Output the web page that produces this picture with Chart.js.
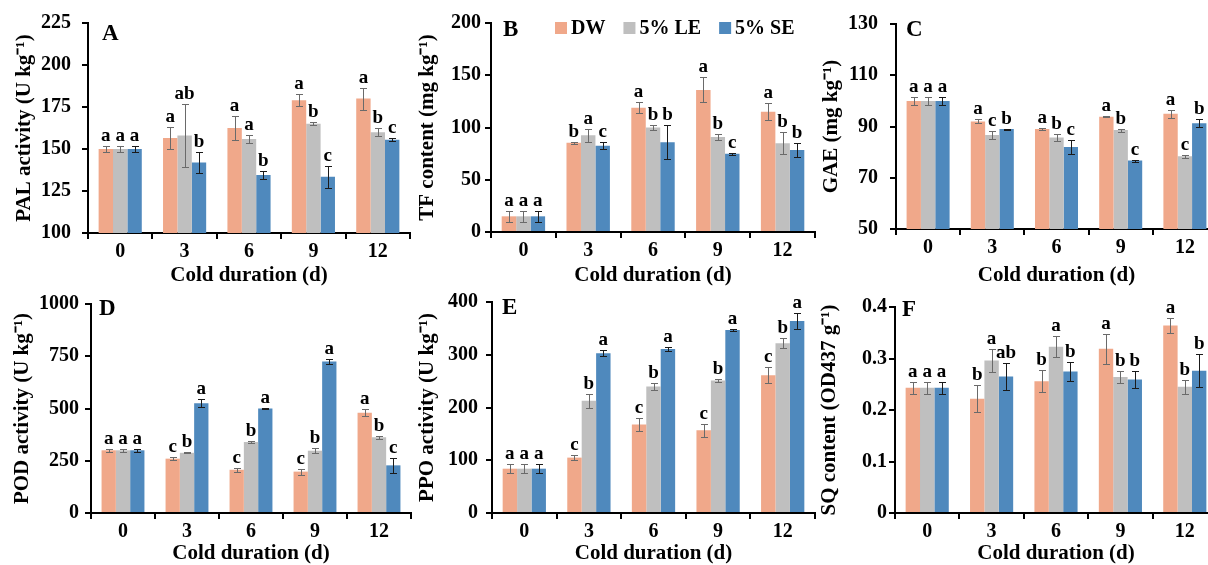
<!DOCTYPE html>
<html>
<head>
<meta charset="utf-8">
<script src="https://cdn.jsdelivr.net/npm/chart.js@4.4.0/dist/chart.umd.min.js"></script>
<style>
  html, body { margin: 0; padding: 0; background: #fff; }
  body { width: 1208px; height: 565px; position: relative; overflow: hidden; }
  canvas { position: absolute; }
</style>
</head>
<body>
<script>
// ---- data ----
const categories = ['0', '3', '6', '9', '12'];
const seriesNames = ['DW', '5% LE', '5% SE'];

// A - PAL activity
const palTicks = ['100', '125', '150', '175', '200', '225'];
const palDW = [150, 156.5, 162.5, 179, 180];
const palLE = [150, 158, 156, 165, 160];
const palSE = [150, 142, 134.5, 133.5, 155.5];
const palErrDW = [1.5, 6.5, 7, 3.5, 6.5];
const palErrLE = [1.5, 19, 2.5, 1, 2.5];
const palErrSE = [1.5, 6.5, 2.5, 6.5, 1];
const palLetDW = ['a', 'a', 'a', 'a', 'a'];
const palLetLE = ['a', 'ab', 'a', 'b', 'b'];
const palLetSE = ['a', 'b', 'b', 'c', 'c'];

// B - TF content
const tfTicks = ['0', '50', '100', '150', '200'];
const tfDW = [15, 85.5, 119, 136, 115];
const tfLE = [15, 92.5, 100, 91, 85];
const tfSE = [15, 82.5, 86, 75, 78.5];
const tfErrDW = [5, 1, 5.5, 12, 8];
const tfErrLE = [5, 6, 2.5, 2.5, 10.5];
const tfErrSE = [5, 3.5, 16.5, 1, 7];
const tfLetDW = ['a', 'b', 'a', 'a', 'a'];
const tfLetLE = ['a', 'a', 'b', 'b', 'b'];
const tfLetSE = ['a', 'c', 'b', 'c', 'b'];

// C - GAE
const gaeTicks = ['50', '70', '90', '110', '130'];
const gaeDW = [100, 92, 89, 93.8, 95];
const gaeLE = [100, 86.7, 85.7, 88.6, 78.4];
const gaeSE = [100, 89, 82, 76.7, 91.3];
const gaeErrDW = [1.5, 0.8, 0.3, 0.15, 1.5];
const gaeErrLE = [1.5, 1.5, 1.5, 0.6, 0.6];
const gaeErrSE = [1.5, 0.2, 2.6, 0.4, 1.5];
const gaeLetDW = ['a', 'a', 'a', 'a', 'a'];
const gaeLetLE = ['a', 'c', 'b', 'b', 'c'];
const gaeLetSE = ['a', 'b', 'c', 'c', 'b'];

// D - POD activity
const podTicks = ['0', '250', '500', '750', '1000'];
const podDW = [300, 260, 207, 198, 480];
const podLE = [300, 288, 340, 298, 362];
const podSE = [300, 525, 500, 725, 228];
const podErrDW = [8, 8, 10, 14, 16];
const podErrLE = [8, 3, 6, 13, 7];
const podErrSE = [8, 20, 3, 10, 35];
const podLetDW = ['a', 'c', 'c', 'c', 'a'];
const podLetLE = ['a', 'b', 'b', 'b', 'b'];
const podLetSE = ['a', 'a', 'a', 'a', 'c'];

// E - PPO activity
const ppoTicks = ['0', '100', '200', '300', '400'];
const ppoDW = [84, 105, 168, 157, 261];
const ppoLE = [84, 213, 240, 251, 322];
const ppoSE = [84, 303, 311, 347, 364];
const ppoErrDW = [8.5, 5, 13, 12, 15];
const ppoErrLE = [8.5, 13, 7, 3, 9];
const ppoErrSE = [8.5, 6, 3, 1.5, 16];
const ppoLetDW = ['a', 'c', 'c', 'c', 'c'];
const ppoLetLE = ['a', 'b', 'b', 'b', 'b'];
const ppoLetSE = ['a', 'a', 'a', 'a', 'a'];

// F - SQ content
const sqTicks = ['0', '0.1', '0.2', '0.3', '0.4'];
const sqDW = [0.243, 0.222, 0.256, 0.319, 0.364];
const sqLE = [0.243, 0.296, 0.323, 0.264, 0.245];
const sqSE = [0.243, 0.265, 0.275, 0.259, 0.276];
const sqErrDW = [0.012, 0.026, 0.021, 0.029, 0.015];
const sqErrLE = [0.012, 0.022, 0.021, 0.011, 0.014];
const sqErrSE = [0.012, 0.026, 0.018, 0.017, 0.032];
const sqLetDW = ['a', 'b', 'b', 'a', 'a'];
const sqLetLE = ['a', 'a', 'a', 'b', 'b'];
const sqLetSE = ['a', 'ab', 'b', 'b', 'b'];

// ---- styles ----
const colors = ['#F0A88A', '#BFBFBF', '#4F89BD'];
const errColors = ['#6a6a6a', '#6a6a6a', '#1a1a1a'];
const serif = "'Liberation Serif', 'Times New Roman', serif";
Chart.defaults.font.family = serif;
Chart.defaults.color = '#000';

// error bars, significance letters, panel tag and legend
const decor = {
  id: 'decor',
  afterDatasetsDraw(chart, args, opts) {
    const ctx = chart.ctx;
    const ys = chart.scales.y;
    ctx.save();
    chart.data.datasets.forEach((ds, i) => {
      const meta = chart.getDatasetMeta(i);
      meta.data.forEach((bar, j) => {
        const v = ds.data[j], e = ds.errors[j];
        const yt = Math.round(ys.getPixelForValue(v + e)) + 0.5;
        const yb = Math.round(ys.getPixelForValue(v - e)) + 0.5;
        const x = Math.round(bar.x) + 0.5;
        ctx.strokeStyle = ds.errorColor;
        ctx.lineWidth = 1;
        ctx.beginPath();
        ctx.moveTo(x, yt); ctx.lineTo(x, yb);
        ctx.moveTo(x - 3.5, yt); ctx.lineTo(x + 3.5, yt);
        ctx.moveTo(x - 3.5, yb); ctx.lineTo(x + 3.5, yb);
        ctx.stroke();
        ctx.fillStyle = '#000';
        ctx.font = 'bold 19px ' + serif;
        ctx.textAlign = 'center';
        ctx.textBaseline = 'alphabetic';
        ctx.fillText(ds.letters[j], bar.x, yt - 6);
      });
    });
    const a = chart.chartArea;
    ctx.fillStyle = '#000';
    ctx.font = 'bold 23px ' + serif;
    ctx.textAlign = 'left';
    ctx.textBaseline = 'middle';
    ctx.fillText(opts.tag, a.left + opts.tagDx, opts.tagY);
    if (opts.legend) {
      ctx.font = 'bold 20px ' + serif;
      let lx = a.left + 64;
      const ly = a.top + 5;
      chart.data.datasets.forEach(ds => {
        ctx.fillStyle = ds.backgroundColor;
        ctx.fillRect(lx, ly - 6, 12, 12);
        ctx.fillStyle = '#000';
        ctx.fillText(ds.label, lx + 16, ly + 1);
        lx += 16 + ctx.measureText(ds.label).width + 18;
      });
    }
    ctx.restore();
  }
};

const panels = [
  { tag: 'A', title: 'PAL activity (U kg⁻¹)', ticks: palTicks,
    vals: [palDW, palLE, palSE], errs: [palErrDW, palErrLE, palErrSE], lets: [palLetDW, palLetLE, palLetSE],
    row: 0, axisX: 88, top: 23, bottom: 233, right: 410, tickPad: 11, titleGap: 63, tagDx: 14, tagY: 34 },
  { tag: 'B', title: 'TF content (mg kg⁻¹)', ticks: tfTicks,
    vals: [tfDW, tfLE, tfSE], errs: [tfErrDW, tfErrLE, tfErrSE], lets: [tfLetDW, tfLetLE, tfLetSE],
    row: 0, axisX: 491, top: 23, bottom: 232, right: 815, tickPad: 4, titleGap: 63, tagDx: 12, tagY: 30, legend: true },
  { tag: 'C', title: 'GAE (mg kg⁻¹)', ticks: gaeTicks,
    vals: [gaeDW, gaeLE, gaeSE], errs: [gaeErrDW, gaeErrLE, gaeErrSE], lets: [gaeLetDW, gaeLetLE, gaeLetSE],
    row: 0, axisX: 896, top: 23, bottom: 229, right: 1217, tickPad: 12, titleGap: 64, tagDx: 10, tagY: 30 },
  { tag: 'D', title: 'POD activity (U kg⁻¹)', ticks: podTicks,
    vals: [podDW, podLE, podSE], errs: [podErrDW, podErrLE, podErrSE], lets: [podLetDW, podLetLE, podLetSE],
    row: 1, axisX: 91, top: 304, bottom: 513, right: 411, tickPad: 6, titleGap: 68, tagDx: 8, tagY: 309 },
  { tag: 'E', title: 'PPO activity (U kg⁻¹)', ticks: ppoTicks,
    vals: [ppoDW, ppoLE, ppoSE], errs: [ppoErrDW, ppoErrLE, ppoErrSE], lets: [ppoLetDW, ppoLetLE, ppoLetSE],
    row: 1, axisX: 492, top: 302, bottom: 513, right: 815, tickPad: 8, titleGap: 64, tagDx: 10, tagY: 308 },
  { tag: 'F', title: 'SQ content (OD437 g⁻¹)', ticks: sqTicks,
    vals: [sqDW, sqLE, sqSE], errs: [sqErrDW, sqErrLE, sqErrSE], lets: [sqLetDW, sqLetLE, sqLetSE],
    row: 1, axisX: 895, top: 307, bottom: 513, right: 1217, tickPad: 2, titleGap: 65, tagDx: 7, tagY: 310 }
];

const yw = 88;
panels.forEach(p => {
  const rowTop = p.row === 0 ? 0 : 282;
  const rowH = p.row === 0 ? 287 : 283;
  const left = p.axisX - yw;
  const width = p.right - left + 6;
  const xh = rowTop + rowH - p.bottom;
  const canvas = document.createElement('canvas');
  canvas.width = width;
  canvas.height = rowH;
  canvas.style.left = left + 'px';
  canvas.style.top = rowTop + 'px';
  document.body.appendChild(canvas);

  const datasets = seriesNames.map((name, i) => ({
    label: name,
    data: p.vals[i],
    errors: p.errs[i],
    letters: p.lets[i],
    errorColor: errColors[i],
    backgroundColor: colors[i],
    borderWidth: 0,
    categoryPercentage: 0.67,
    barPercentage: 1.0
  }));

  const nums = p.ticks.map(Number);
  new Chart(canvas, {
    type: 'bar',
    data: { labels: categories, datasets: datasets },
    options: {
      responsive: false,
      animation: false,
      devicePixelRatio: 1,
      layout: { padding: { top: p.top - rowTop, right: 6, left: 0, bottom: 0 } },
      plugins: {
        legend: { display: false },
        tooltip: { enabled: false },
        decor: { tag: p.tag, tagDx: p.tagDx, tagY: p.tagY - rowTop, legend: !!p.legend }
      },
      scales: {
        x: {
          grid: { drawOnChartArea: false, color: '#000', lineWidth: 2, tickLength: 6, offset: true },
          border: { color: '#000', width: 2 },
          ticks: { color: '#000', font: { size: 20, weight: 'bold' }, padding: 1, maxRotation: 0 },
          title: { display: true, text: 'Cold duration (d)', color: '#000',
                   font: { size: 21, weight: 'bold' }, padding: { top: 0, bottom: -1 } },
          afterFit: s => { s.height = xh; }
        },
        y: {
          min: nums[0],
          max: nums[nums.length - 1],
          ticks: { stepSize: nums[1] - nums[0], color: '#000',
                   font: { size: 20, weight: 'bold' }, padding: p.tickPad,
                   callback: (v, i) => p.ticks[i] },
          grid: { drawOnChartArea: false, color: '#000', lineWidth: 2, tickLength: 6 },
          border: { color: '#000', width: 2 },
          title: { display: true, text: p.title, color: '#000',
                   font: { size: 21, weight: 'bold' },
                   padding: { top: yw - p.titleGap - 12.6, bottom: 0 } },
          afterFit: s => { s.width = yw; }
        }
      }
    },
    plugins: [decor]
  });
});
</script>
</body>
</html>
